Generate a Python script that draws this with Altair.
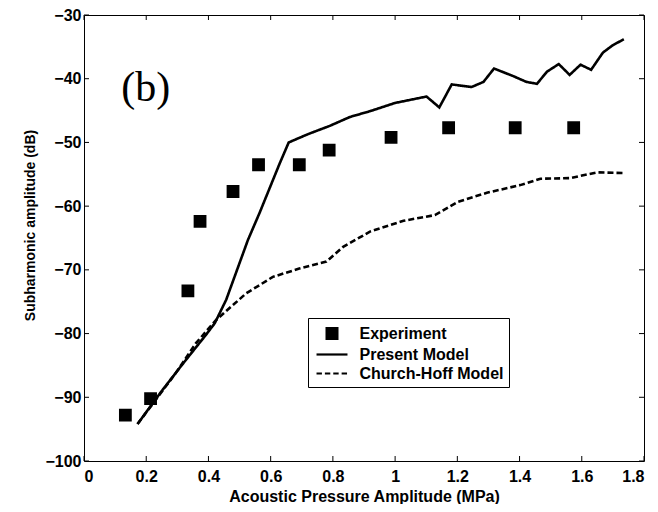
import altair as alt
import pandas as pd

series_names = ["Experiment", "Present Model", "Church-Hoff Model"]

exp_x = [0.133, 0.214, 0.334, 0.373, 0.479, 0.561, 0.692, 0.788, 0.987, 1.172, 1.386, 1.574]
exp_y = [-92.8, -90.2, -73.3, -62.4, -57.7, -53.5, -53.5, -51.2, -49.2, -47.7, -47.7, -47.7]

pm_x = [0.172, 0.25, 0.32, 0.392, 0.42, 0.457, 0.527, 0.564, 0.629, 0.658, 0.72, 0.79,
        0.855, 0.919, 1.0, 1.101, 1.142, 1.182, 1.246, 1.284, 1.318, 1.38, 1.422, 1.456,
        1.488, 1.526, 1.561, 1.596, 1.63, 1.668, 1.698, 1.735]
pm_y = [-94.2, -89.0, -84.6, -80.2, -78.4, -74.7, -65.3, -61.1, -53.3, -50.0, -48.7, -47.4,
        -46.0, -45.1, -43.8, -42.8, -44.5, -40.9, -41.3, -40.5, -38.4, -39.6, -40.5, -40.8,
        -38.9, -37.7, -39.4, -37.8, -38.6, -35.9, -34.8, -33.8]

ch_x = [0.172, 0.295, 0.36, 0.424, 0.521, 0.607, 0.692, 0.779, 0.833, 0.919, 1.027, 1.128,
        1.203, 1.295, 1.402, 1.467, 1.563, 1.649, 1.735]
ch_y = [-94.2, -86.2, -81.5, -77.9, -73.7, -71.1, -69.8, -68.7, -66.4, -64.0, -62.3, -61.4,
        -59.3, -57.9, -56.7, -55.7, -55.6, -54.7, -54.8]

x_ticks = [0, 0.2, 0.4, 0.6, 0.8, 1.0, 1.2, 1.4, 1.6, 1.8]
y_ticks = [-100, -90, -80, -70, -60, -50, -40, -30]

panel_text = ["(b)"]
panel_x = [0.12]
panel_y = [-41.5]

W, H = 560, 446
TICK = 5

exp_df = pd.DataFrame({"p": exp_x, "db": exp_y, "series": series_names[0]})
lines_df = pd.concat([
    pd.DataFrame({"p": pm_x, "db": pm_y, "series": series_names[1]}),
    pd.DataFrame({"p": ch_x, "db": ch_y, "series": series_names[2]}),
], ignore_index=True)
label_df = pd.DataFrame({"p": panel_x, "db": panel_y, "t": panel_text})
xt_df = pd.DataFrame({"v": x_ticks})
yt_df = pd.DataFrame({"v": y_ticks})

x_scale = alt.Scale(domain=[0, 1.8], nice=False, zero=False)
y_scale = alt.Scale(domain=[-100, -30], nice=False, zero=False)

SANS = "Liberation Sans"

x_axis = alt.Axis(orient="bottom", values=x_ticks, format=".1~f",
                  title="Acoustic Pressure Amplitude (MPa)",
                  ticks=False, labelPadding=7, titlePadding=4,
                  titleFontSize=16, domain=False, grid=False)
y_axis = alt.Axis(orient="left", values=y_ticks, format="d",
                  title="Subharmonic amplitude (dB)",
                  ticks=False, labelPadding=3, titlePadding=7,
                  titleFontSize=14, titleY=210, domain=False, grid=False)

# legend symbols (unit box -1..1, scaled by sqrt(size)/2)
square_path = "M-0.6,-0.6H0.6V0.6H-0.6Z"
solid_path = "M-1.72,0H1.72"
dashed_path = "M-1.72,0H-1.12M-0.79,0H-0.19M0.14,0H0.74M1.07,0H1.67"

lines = alt.Chart(lines_df).mark_line(color="black", strokeWidth=2.6).encode(
    x=alt.X("p:Q", scale=x_scale, axis=x_axis),
    y=alt.Y("db:Q", scale=y_scale, axis=y_axis),
    strokeDash=alt.StrokeDash("series:N",
                              scale=alt.Scale(domain=series_names[1:],
                                              range=[[1, 0], [6, 3]]),
                              legend=None),
)

points = alt.Chart(exp_df).mark_point(
    filled=False, fill="black", strokeWidth=2, opacity=1, size=324
).encode(
    x=alt.X("p:Q", scale=x_scale, axis=None),
    y=alt.Y("db:Q", scale=y_scale, axis=None),
    stroke=alt.Stroke("series:N",
                      scale=alt.Scale(domain=series_names,
                                      range=["black", "black", "black"]),
                      legend=alt.Legend(title=None)),
    shape=alt.Shape("series:N",
                    scale=alt.Scale(domain=series_names,
                                    range=[square_path, solid_path, dashed_path]),
                    legend=alt.Legend(title=None)),
)

x_ticks_bottom = alt.Chart(xt_df).mark_rule(color="black", strokeWidth=1).encode(
    x=alt.X("v:Q", scale=x_scale, axis=None),
    y=alt.value(H), y2=alt.value(H - TICK),
)
x_ticks_top = alt.Chart(xt_df).mark_rule(color="black", strokeWidth=1).encode(
    x=alt.X("v:Q", scale=x_scale, axis=None),
    y=alt.value(0), y2=alt.value(TICK),
)
y_ticks_left = alt.Chart(yt_df).mark_rule(color="black", strokeWidth=1).encode(
    y=alt.Y("v:Q", scale=y_scale, axis=None),
    x=alt.value(0), x2=alt.value(TICK),
)
y_ticks_right = alt.Chart(yt_df).mark_rule(color="black", strokeWidth=1).encode(
    y=alt.Y("v:Q", scale=y_scale, axis=None),
    x=alt.value(W), x2=alt.value(W - TICK),
)

label = alt.Chart(label_df).mark_text(
    font="Liberation Serif", fontSize=42, align="left", baseline="middle", color="black"
).encode(
    x=alt.X("p:Q", scale=x_scale, axis=None),
    y=alt.Y("db:Q", scale=y_scale, axis=None),
    text="t:N",
)

chart = alt.layer(
    lines, points, x_ticks_bottom, x_ticks_top, y_ticks_left, y_ticks_right, label
).resolve_axis(
    x="independent", y="independent"
).properties(
    width=W, height=H,
    autosize=alt.AutoSizeParams(type="none"),
    padding={"left": 76, "top": 7, "right": 6, "bottom": 43},
    background="white",
).configure_view(
    stroke="black", strokeWidth=1
).configure_axis(
    labelFont=SANS, labelFontSize=16, labelFontWeight="bold", labelColor="black",
    titleFont=SANS, titleFontWeight="bold", titleColor="black",
).configure_legend(
    orient="none", legendX=224, legendY=303,
    strokeColor="black", fillColor="white", padding=5, cornerRadius=0,
    labelFont=SANS, labelFontSize=16, labelFontWeight="bold", labelColor="black",
    labelOffset=17, symbolOffset=8.5, rowPadding=0, symbolSize=324,
    symbolStrokeWidth=2.2, symbolStrokeColor="black", symbolFillColor="black",
    labelLimit=300,
)

chart.save("out.html", embed_options={"renderer": "svg", "actions": False})
